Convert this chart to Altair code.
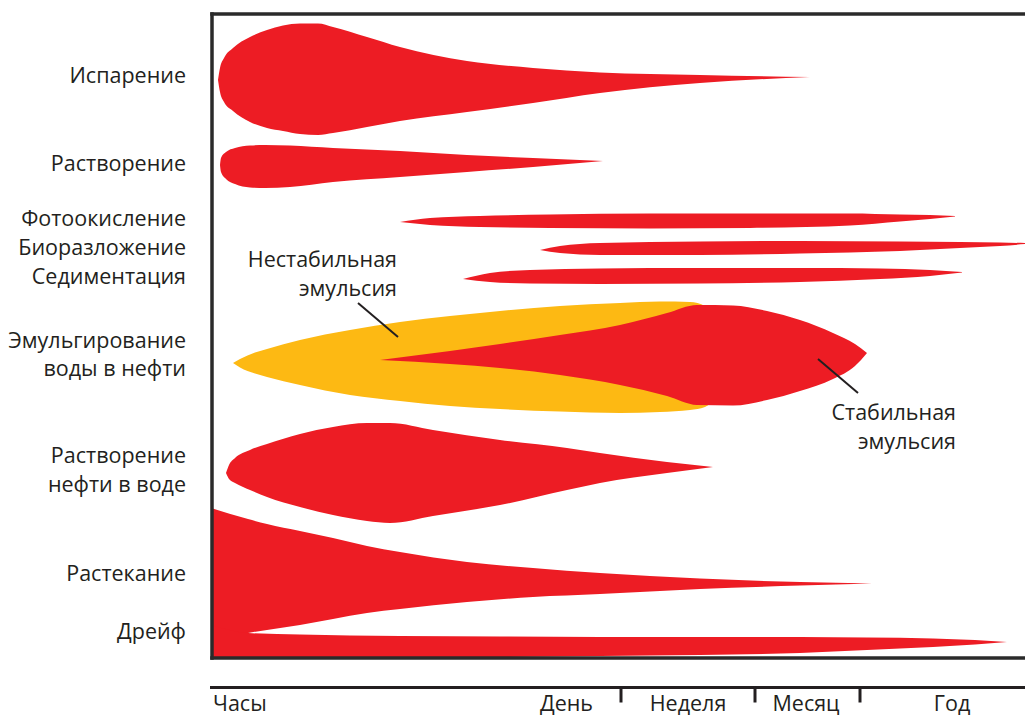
import altair as alt
import pandas as pd

RED = "#ed1c24"
YELLOW = "#fdb913"
INK = "#231f20"
FONT = "Open Sans"

# ---- process shapes: position along time axis (x) and upper / lower outline (y) ----
evap_x = [218, 220, 224, 233, 250, 267, 283, 300, 318, 333, 367, 400, 467, 533, 600, 700, 810]
evap_top = [80, 68, 58, 48, 37, 30, 25.5, 23.5, 23.5, 27, 37, 47, 61, 68, 72.5, 75, 77]
evap_bot = [80, 92, 102, 111, 122, 128, 131, 134, 135, 133, 127, 121, 112, 103, 93, 83, 77]

diss_x = [220, 221, 226, 235, 250, 265, 290, 333, 400, 467, 533, 603]
diss_top = [165, 158, 152, 148, 145.5, 145, 145.5, 148, 151, 155, 158, 161]
diss_bot = [165, 172, 179, 184, 187.5, 188, 187, 182, 177, 172, 167, 161]

photo_x = [400, 430, 480, 550, 650, 750, 850, 900, 930, 955]
photo_top = [222, 218, 216, 214.5, 213.5, 213.5, 213.5, 214.5, 215, 216]
photo_bot = [222, 225, 227, 228, 228.5, 228, 225.5, 221.5, 219, 216.5]

bio_x = [540, 560, 600, 700, 800, 900, 960, 1000, 1032]
bio_top = [250, 246, 243, 241.5, 241, 241.5, 242, 242.5, 243.3]
bio_bot = [250, 253, 255, 255, 253.5, 251, 248, 246, 243.5]

sed_x = [463, 490, 530, 600, 700, 800, 880, 930, 962]
sed_top = [279, 273, 270, 268.5, 268, 268, 268.5, 270, 272]
sed_bot = [279, 282, 283.5, 284, 283.5, 282, 279, 276, 272.5]

unst_x = [233, 240, 255, 267, 300, 350, 400, 450, 500, 560, 620, 660, 690, 705, 716]
unst_top = [363, 359, 352.5, 349, 340, 330, 322, 316, 311, 306, 303, 301.5, 302, 306, 320]
unst_bot = [363, 367.5, 373.5, 377, 385, 395, 401, 406, 409, 411.5, 413, 412, 410, 407, 398]

stab_x = [380, 450, 500, 560, 620, 667, 697, 733, 767, 800, 833, 855, 867]
stab_top = [360, 351, 344, 335, 325, 313, 305, 305.5, 311, 320, 333, 344, 353]
stab_bot = [360, 364, 368, 375, 385, 396, 405, 405.5, 400, 391, 379, 366, 353]

oilw_x = [226, 229, 235, 250, 267, 300, 333, 367, 390, 433, 500, 567, 600, 667, 713]
oilw_top = [473, 465, 458, 450, 444, 434, 427, 423, 423, 430, 440, 448, 453, 462, 467]
oilw_bot = [473, 479, 483, 490, 497, 507, 515, 521, 523, 516, 505, 490, 483, 473, 467]

spread_x = [211, 248, 267, 300, 333, 367, 400, 467, 533, 600, 700, 800, 872]
spread_top = [508, 519, 524, 531, 538, 546, 552, 562, 568, 573, 578.5, 582, 583.5]
spread_bot = [645, 633, 630, 625, 619, 613, 609, 602, 597, 594, 589, 585.5, 583.5]

drift_x = [211, 248, 300, 400, 500, 600, 700, 800, 867, 933, 975, 1007]
drift_top = [625, 633, 634.5, 636, 636.5, 637, 637, 637, 637.5, 638.5, 640, 642]
drift_bot = [659, 659, 659, 658, 657, 656, 655, 653, 650, 647, 644.5, 642]

red_shapes = {
    "Испарение": (evap_x, evap_top, evap_bot),
    "Растворение": (diss_x, diss_top, diss_bot),
    "Фотоокисление": (photo_x, photo_top, photo_bot),
    "Биоразложение": (bio_x, bio_top, bio_bot),
    "Седиментация": (sed_x, sed_top, sed_bot),
    "Стабильная эмульсия": (stab_x, stab_top, stab_bot),
    "Растворение нефти в воде": (oilw_x, oilw_top, oilw_bot),
    "Растекание": (spread_x, spread_top, spread_bot),
    "Дрейф": (drift_x, drift_top, drift_bot),
}
yellow_shapes = {"Нестабильная эмульсия": (unst_x, unst_top, unst_bot)}


def to_frame(shapes):
    rows = []
    for name, (xs_, ts, bs) in shapes.items():
        for x, t, b in zip(xs_, ts, bs):
            rows.append({"shape": name, "x": x, "top": t, "bot": b})
    return pd.DataFrame(rows)


# ---- row labels on the left ----
row_labels = ["Испарение", "Растворение", "Фотоокисление", "Биоразложение", "Седиментация",
              "Эмульгирование", "воды в нефти", "Растворение", "нефти в воде",
              "Растекание", "Дрейф"]
row_label_y = [77, 165, 220, 249, 278, 342, 370, 457, 486, 575, 633]

# ---- annotations ----
note_text = ["Нестабильная", "эмульсия", "Стабильная", "эмульсия"]
note_x = [397, 397, 956, 956]
note_y = [261, 290, 414, 443]
leader_x = [358, 818]
leader_y = [303, 359]
leader_x2 = [398, 858]
leader_y2 = [337, 393]

# ---- time scale under the chart ----
time_labels = ["Часы", "День", "Неделя", "Месяц", "Год"]
time_label_x = [213, 593, 688, 806, 952]
time_label_align = ["left", "right", "center", "center", "center"]
time_label_y = 711
time_ticks = [621, 755, 860]
axis_line_y = 687.5

X_DOMAIN = [212, 1025]
Y_DOMAIN = [14, 658]

xs = alt.Scale(domain=X_DOMAIN, nice=False, zero=False)
ys = alt.Scale(domain=Y_DOMAIN, reverse=True, nice=False, zero=False)


def area_layer(df, color):
    return alt.Chart(df).mark_area(interpolate="monotone", color=color, opacity=1).encode(
        x=alt.X("x:Q", scale=xs, axis=None),
        y=alt.Y("top:Q", scale=ys, axis=None),
        y2="bot:Q",
        detail="shape:N",
    )


yellow = area_layer(to_frame(yellow_shapes), YELLOW)
red = area_layer(to_frame(red_shapes), RED)


def rule_layer(df, width, color=INK, cap="square"):
    return alt.Chart(df).mark_rule(strokeWidth=width, color=color, strokeCap=cap).encode(
        x=alt.X("x:Q", scale=xs, axis=None),
        y=alt.Y("y:Q", scale=ys, axis=None),
        x2="x2:Q",
        y2="y2:Q",
    )


frame_df = pd.DataFrame({
    "x": [X_DOMAIN[0], X_DOMAIN[0], X_DOMAIN[0]],
    "x2": [X_DOMAIN[1] + 5, X_DOMAIN[0], X_DOMAIN[1] + 5],
    "y": [Y_DOMAIN[0], Y_DOMAIN[0], Y_DOMAIN[1]],
    "y2": [Y_DOMAIN[0], Y_DOMAIN[1], Y_DOMAIN[1]],
})
frame = rule_layer(frame_df, 3.5, "#2a2a2a")

leaders = rule_layer(pd.DataFrame({"x": leader_x, "y": leader_y, "x2": leader_x2, "y2": leader_y2}),
                     2, INK, "butt")

axis_df = pd.DataFrame({
    "x": [X_DOMAIN[0] - 2] + time_ticks,
    "x2": [X_DOMAIN[1] + 5] + time_ticks,
    "y": [axis_line_y] * (1 + len(time_ticks)),
    "y2": [axis_line_y] + [axis_line_y + 15] * len(time_ticks),
})
time_axis = rule_layer(axis_df, 3, INK, "butt")


def text_layer(df, align, baseline="middle"):
    return alt.Chart(df).mark_text(
        align=align, baseline=baseline, font=FONT, fontSize=21.5, fontWeight=500, color=INK
    ).encode(
        x=alt.X("x:Q", scale=xs, axis=None),
        y=alt.Y("y:Q", scale=ys, axis=None),
        text="t:N",
    )


rows_df = pd.DataFrame({"t": row_labels, "x": [186] * len(row_labels), "y": row_label_y})
notes_df = pd.DataFrame({"t": note_text, "x": note_x, "y": note_y})
time_df = pd.DataFrame({"t": time_labels, "x": time_label_x, "y": [time_label_y] * len(time_labels),
                        "a": time_label_align})

texts = [text_layer(rows_df, "right"), text_layer(notes_df, "right")]
for a in ["left", "right", "center"]:
    sub = time_df[time_df["a"] == a]
    texts.append(text_layer(sub, a, "alphabetic"))

chart = alt.layer(yellow, red, frame, leaders, time_axis, *texts).properties(
    width=813,
    height=644,
    autosize=alt.AutoSizeParams(type="none"),
    padding={"left": 204, "top": 6, "right": 0, "bottom": 62},
).configure_view(stroke=None)

chart.save("out.html", embed_options={"renderer": "svg", "actions": False})
